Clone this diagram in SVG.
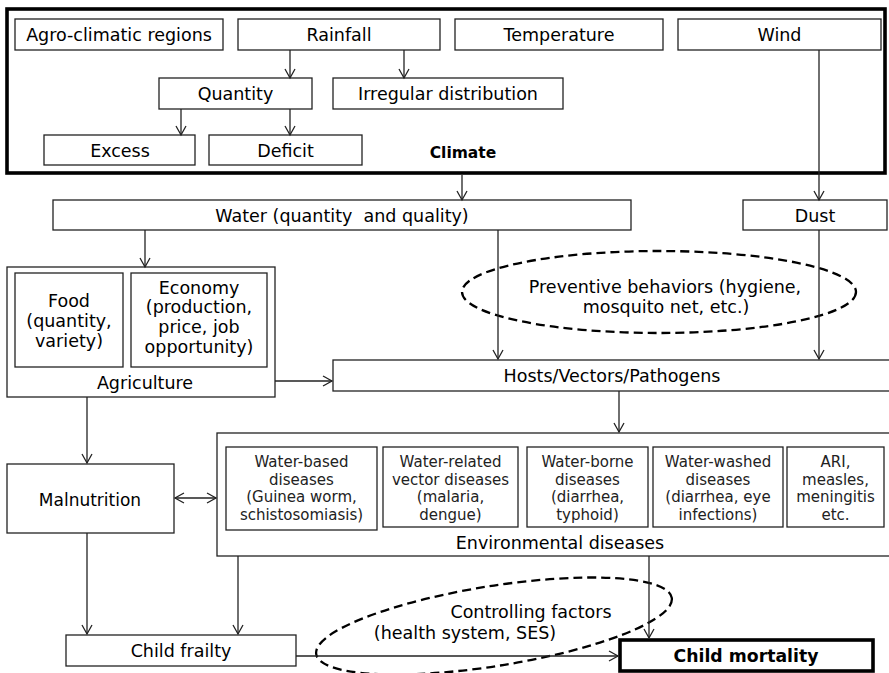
<svg xmlns="http://www.w3.org/2000/svg" width="889" height="673" viewBox="0 0 889 673">
<style>
text{font-family:"DejaVu Sans",Verdana,sans-serif;font-size:17.5px;fill:#000;text-anchor:middle}
.b{fill:#fff;stroke:#222;stroke-width:1.3}
.thick{fill:none;stroke:#000;stroke-width:3.6}
.s{font-size:15px;fill:#222}
.bold{font-weight:bold}
.c line{stroke:#222;stroke-width:1.3}
.a{marker-end:url(#ah)}
.dash{fill:none;stroke:#000;stroke-width:2.3;stroke-dasharray:9 5}
</style>
<defs>
<marker id="ah" viewBox="-11 -7 13 14" refX="0" refY="0" markerWidth="13" markerHeight="14" markerUnits="userSpaceOnUse" orient="auto-start-reverse">
<path d="M-9,-5 L0,0 L-9,5" fill="none" stroke="#222" stroke-width="1.3"/>
</marker>
</defs>
<rect width="889" height="673" fill="#fff"/>
<g id="climate">
<rect class="thick" x="7" y="9" width="878" height="164"/>
<text class="bold" x="463" y="158" style="font-size:15.5px">Climate</text>
</g>
<g id="agro"><rect class="b" x="15" y="19" width="208" height="31"/><text x="119" y="41">Agro-climatic regions</text></g>
<g id="rainfall"><rect class="b" x="238" y="19" width="202" height="31"/><text x="339" y="41">Rainfall</text></g>
<g id="temperature"><rect class="b" x="455" y="19" width="208" height="31"/><text x="559" y="41">Temperature</text></g>
<g id="wind"><rect class="b" x="678" y="19" width="203" height="31"/><text x="779.5" y="41">Wind</text></g>
<g id="quantity"><rect class="b" x="159" y="78" width="153" height="31"/><text x="235.5" y="100">Quantity</text></g>
<g id="irregular"><rect class="b" x="333" y="78" width="230" height="31"/><text x="448" y="100">Irregular distribution</text></g>
<g id="excess"><rect class="b" x="44" y="135" width="151" height="30"/><text x="120" y="156.5">Excess</text></g>
<g id="deficit"><rect class="b" x="209" y="135" width="153" height="30"/><text x="285.5" y="156.5">Deficit</text></g>
<g id="water"><rect class="b" x="53" y="200" width="578" height="30"/><text x="342" y="221.5" style="white-space:pre">Water (quantity  and quality)</text></g>
<g id="dust"><rect class="b" x="743" y="200" width="144" height="30"/><text x="815" y="221.5">Dust</text></g>
<g id="agriculture">
<rect class="b" x="7" y="267" width="268" height="130"/>
<text x="145" y="388.5">Agriculture</text>
</g>
<g id="food"><rect class="b" x="15" y="273" width="108" height="94"/>
<text x="69" y="307">Food</text><text x="69" y="327">(quantity,</text><text x="69" y="347">variety)</text></g>
<g id="economy"><rect class="b" x="131" y="273" width="136" height="94"/>
<text x="199" y="293.5">Economy</text><text x="199" y="313">(production,</text><text x="199" y="333">price, job</text><text x="199" y="353">opportunity)</text></g>
<g id="preventive">
<ellipse class="dash" cx="659" cy="292" rx="197" ry="41"/>
<text x="665" y="293">Preventive behaviors (hygiene,</text>
<text x="666" y="313">mosquito net, etc.)</text>
</g>
<g id="hosts"><rect class="b" x="333" y="360" width="570" height="31"/><text x="612" y="382">Hosts/Vectors/Pathogens</text></g>
<g id="environmental">
<rect class="b" x="217" y="433" width="686" height="123"/>
<text x="560" y="548.5">Environmental diseases</text>
</g>
<g id="water-based"><rect class="b" x="226" y="447" width="151" height="83"/>
<text class="s" x="301.5" y="467">Water-based</text><text class="s" x="301.5" y="484.5">diseases</text><text class="s" x="301.5" y="502">(Guinea worm,</text><text class="s" x="301.5" y="519.5">schistosomiasis)</text></g>
<g id="water-related"><rect class="b" x="383" y="447" width="135" height="80"/>
<text class="s" x="450.5" y="467">Water-related</text><text class="s" x="450.5" y="484.5">vector diseases</text><text class="s" x="450.5" y="502">(malaria,</text><text class="s" x="450.5" y="519.5">dengue)</text></g>
<g id="water-borne"><rect class="b" x="527" y="447" width="121" height="80"/>
<text class="s" x="587.5" y="467">Water-borne</text><text class="s" x="587.5" y="484.5">diseases</text><text class="s" x="587.5" y="502">(diarrhea,</text><text class="s" x="587.5" y="519.5">typhoid)</text></g>
<g id="water-washed"><rect class="b" x="653" y="447" width="130" height="80"/>
<text class="s" x="718" y="467">Water-washed</text><text class="s" x="718" y="484.5">diseases</text><text class="s" x="718" y="502">(diarrhea, eye</text><text class="s" x="718" y="519.5">infections)</text></g>
<g id="ari"><rect class="b" x="787" y="447" width="97" height="80"/>
<text class="s" x="835.5" y="467">ARI,</text><text class="s" x="835.5" y="484.5">measles,</text><text class="s" x="835.5" y="502">meningitis</text><text class="s" x="835.5" y="519.5">etc.</text></g>
<g id="malnutrition"><rect class="b" x="7" y="464" width="167" height="69"/><text x="90" y="506" style="font-size:17px">Malnutrition</text></g>
<g id="controlling">
<ellipse class="dash" cx="494" cy="626" rx="180" ry="40" transform="rotate(-9 494 626)"/>
<text x="531" y="617.5">Controlling factors</text>
<text x="465" y="638.5">(health system, SES)</text>
</g>
<g id="frailty"><rect class="b" x="66" y="635" width="230" height="31"/><text x="181" y="657">Child frailty</text></g>
<g id="mortality"><rect x="620" y="640" width="253" height="31" fill="#fff" stroke="#000" stroke-width="3.6"/><text class="bold" x="746" y="662" style="font-size:17.3px">Child mortality</text></g>
<g id="connectors" class="c">
<line class="a" x1="290" y1="50" x2="290" y2="78"/>
<line class="a" x1="404" y1="50" x2="404" y2="78"/>
<line class="a" x1="181" y1="109" x2="181" y2="135"/>
<line class="a" x1="290" y1="109" x2="290" y2="135"/>
<line class="a" x1="462" y1="175" x2="462" y2="200"/>
<line class="a" x1="819" y1="50" x2="819" y2="200"/>
<line class="a" x1="145" y1="230" x2="145" y2="267"/>
<line class="a" x1="498" y1="230" x2="498" y2="359"/>
<line class="a" x1="819" y1="230" x2="819" y2="359"/>
<line class="a" x1="275" y1="381" x2="332" y2="381"/>
<line class="a" x1="619" y1="391" x2="619" y2="432"/>
<line class="a" x1="87" y1="397" x2="87" y2="463"/>
<line x1="175" y1="498" x2="216" y2="498" marker-start="url(#ah)" marker-end="url(#ah)"/>
<line class="a" x1="87" y1="533" x2="87" y2="634"/>
<line class="a" x1="238" y1="556" x2="238" y2="634"/>
<line class="a" x1="296" y1="656" x2="618" y2="656"/>
<line class="a" x1="649" y1="556" x2="649" y2="638"/>
</g>
</svg>
